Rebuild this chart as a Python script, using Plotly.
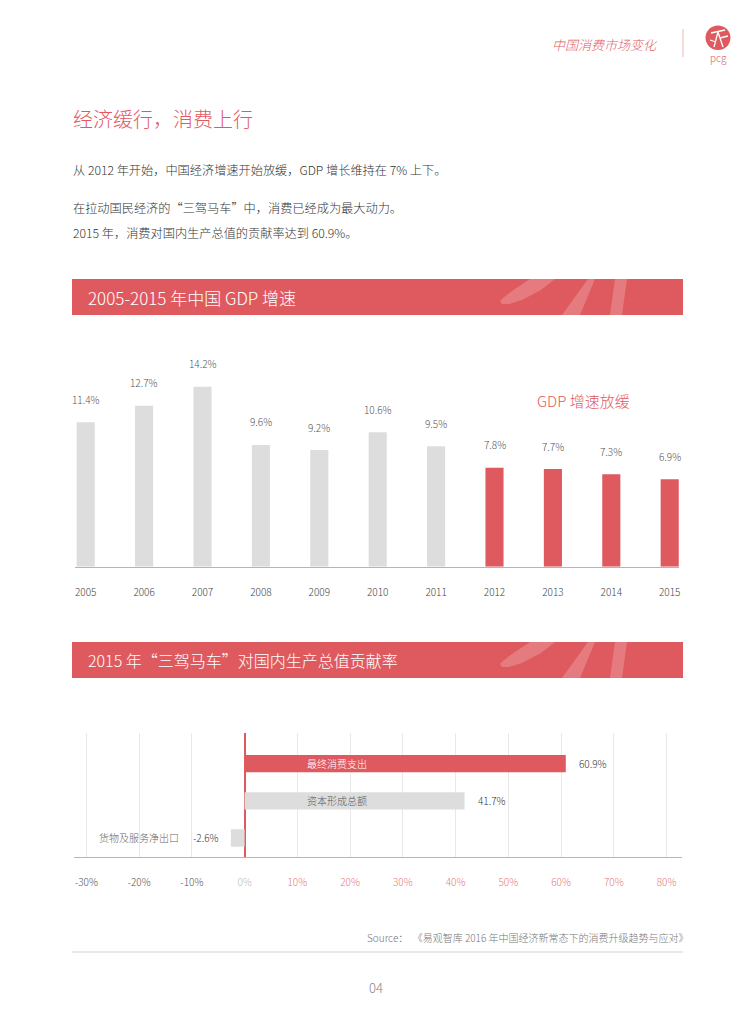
import plotly.graph_objects as go

# ---------------- data ----------------
years = ["2005", "2006", "2007", "2008", "2009", "2010", "2011", "2012", "2013", "2014", "2015"]
gdp_growth = [11.4, 12.7, 14.2, 9.6, 9.2, 10.6, 9.5, 7.8, 7.7, 7.3, 6.9]
slow_from = "2012"

drivers = ["货物及服务净出口", "资本形成总额", "最终消费支出"]
contrib = [-2.6, 41.7, 60.9]
x_ticks = [-30, -20, -10, 0, 10, 20, 30, 40, 50, 60, 70, 80]

W, H = 755, 1024
RED = "#df5a5f"
GRAY_BAR = "#dcdddc"
FONT = "Noto Sans CJK SC"
WT = 300


def px(x):
    return x / W


def py(y):
    return 1 - y / H


def f(size, color):
    return dict(size=size, color=color, family=FONT, weight=WT)


fig = go.Figure()

# ---------------- chart 1: GDP growth ----------------
slow_idx = years.index(slow_from)
colors1 = [GRAY_BAR if i < slow_idx else RED for i in range(len(years))]
fig.add_trace(go.Bar(
    x=years, y=gdp_growth, marker=dict(color=colors1, line=dict(width=0)),
    width=0.31, xaxis="x", yaxis="y", showlegend=False, hoverinfo="skip"))

# ---------------- chart 2: contribution ----------------
colors2 = [GRAY_BAR if d != "最终消费支出" else RED for d in drivers]
fig.add_trace(go.Bar(
    y=drivers, x=contrib, orientation="h",
    marker=dict(color=colors2, line=dict(width=0)),
    width=0.466, xaxis="x2", yaxis="y2", showlegend=False, hoverinfo="skip"))

ann = []
shapes = []

# value labels chart 1
for i, (yr, v) in enumerate(zip(years, gdp_growth)):
    ann.append(dict(x=i, y=v, xref="x", yref="y", text=f"{v}%", yshift=23,
                    font=f(10, "#555")))

ann.append(dict(x=px(583), y=py(400), text="GDP 增速放缓", font=f(15, RED)))

# labels chart 2
for d, v in zip(drivers, contrib):
    if v >= 0:
        ann.append(dict(x=17.5, y=d, xref="x2", yref="y2", text=d,
                        font=f(10, "white" if d == "最终消费支出" else "#555")))
        ann.append(dict(x=v, y=d, xref="x2", yref="y2", text=f"{v}%",
                        xanchor="left", xshift=11, font=f(10, "#333")))
    else:
        ann.append(dict(x=v, y=d, xref="x2", yref="y2", text=f"{v}%",
                        xanchor="right", xshift=-10, font=f(10, "#333")))
        ann.append(dict(x=v, y=d, xref="x2", yref="y2", text=d,
                        xanchor="right", xshift=-50, font=f(10, "#666")))

# ---------------- page text ----------------
ann += [
    dict(x=px(605), y=py(44), text="<i>中国消费市场变化</i>", font=f(13, RED)),
    dict(x=px(718), y=py(57), text="pcg", font=f(10, RED)),
    dict(x=px(71), y=py(118), text="经济缓行，消费上行", xanchor="left", font=f(20, RED)),
    dict(x=px(71), y=py(170), text="从 2012 年开始，中国经济增速开始放缓，GDP 增长维持在 7% 上下。", xanchor="left",
         font=f(12.2, "#333")),
    dict(x=px(71), y=py(208), text="在拉动国民经济的“三驾马车”中，消费已经成为最大动力。", xanchor="left",
         font=f(12.2, "#333")),
    dict(x=px(71), y=py(233), text="2015 年，消费对国内生产总值的贡献率达到 60.9%。", xanchor="left",
         font=f(12.2, "#333")),
    dict(x=px(86), y=py(297), text="2005-2015 年中国 GDP 增速", xanchor="left", font=f(17, "white")),
    dict(x=px(86), y=py(660), text="2015 年“三驾马车”对国内生产总值贡献率", xanchor="left", font=f(16, "white")),
    dict(x=px(691), y=py(937), text="Source：  《易观智库 2016 年中国经济新常态下的消费升级趋势与应对》", xanchor="right",
         font=f(10, "#777")),
    dict(x=px(376), y=py(987), text="04", font=f(13, "#888")),
]
for a in ann:
    a.setdefault("xref", "paper")
    a.setdefault("yref", "paper")
    a.setdefault("xanchor", "center")
    a.setdefault("yanchor", "middle")
    a["showarrow"] = False


# ---------------- shapes ----------------
def rect(x0, y0, x1, y1, color):
    return dict(type="rect", xref="paper", yref="paper", x0=px(x0), x1=px(x1), y0=py(y1), y1=py(y0),
                fillcolor=color, line=dict(width=0), layer="below")


def poly(points, color):
    p = "M " + " L ".join(f"{px(x):.5f},{py(y):.5f}" for x, y in points) + " Z"
    return dict(type="path", xref="paper", yref="paper", path=p, fillcolor=color, line=dict(width=0))


STRIPE = "rgba(255,255,255,0.2)"
for top in (279, 642):
    bot = top + 36
    shapes.append(rect(72, top, 683, bot, RED))
    # decorative stripes
    shapes.append(poly([(500, top + 22), (503, top + 19), (512, top + 12), (530, top), (555, top),
                        (541, top + 11), (522, top + 21), (509, top + 25), (502, top + 25)], STRIPE))
    shapes.append(poly([(562, bot), (580, bot), (595, top), (588, top)], STRIPE))
    shapes.append(poly([(610, bot), (622, bot), (627, top), (615, top)], STRIPE))

# header line and logo
shapes.append(dict(type="line", xref="paper", yref="paper", x0=px(683), x1=px(683), y0=py(29), y1=py(57),
                   line=dict(color="#f2c4c4", width=1.2)))
shapes.append(dict(type="circle", xref="paper", yref="paper", x0=px(705.5), x1=px(730.5), y0=py(50), y1=py(25.5),
                   fillcolor=RED, line=dict(width=0)))
for (x0, y0, x1, y1) in [(718, 32, 714, 47), (718, 32, 723, 47), (711, 33, 725, 30), (720, 38, 728, 36),
                         (710, 40, 716, 42)]:
    shapes.append(dict(type="line", xref="paper", yref="paper", x0=px(x0), x1=px(x1), y0=py(y0), y1=py(y1),
                       line=dict(color="white", width=1.3)))
# separator
shapes.append(dict(type="line", xref="paper", yref="paper", x0=px(72), x1=px(683), y0=py(952), y1=py(952),
                   line=dict(color="#d5d5d5", width=1)))

# ---------------- axes ----------------
base1, step1, ppu1 = 566.7, 58.4, 12.68
c0 = 85.7
xr1 = [(75 - c0) / step1, (679 - c0) / step1]
yr1 = [0, 16]

zero2, ppu2 = 244.6, 5.274
xr2 = [(74 - zero2) / ppu2, (682 - zero2) / ppu2]

tick_text = []
for t in x_ticks:
    if t < 0:
        col = "#555"
    elif t == 0:
        col = "#bbb"
    else:
        col = "#e8797c"
    tick_text.append(f"<span style='color:{col}'>{t}%</span>")

fig.update_layout(
    width=W, height=H, autosize=False,
    margin=dict(l=0, r=0, t=0, b=0),
    paper_bgcolor="white", plot_bgcolor="rgba(0,0,0,0)",
    font=dict(family=FONT, color="#333", weight=WT),
    annotations=ann, shapes=shapes,
    xaxis=dict(domain=[px(75), px(679)], range=xr1, type="category", showline=True, linecolor="#b5b5b5",
               linewidth=1, showgrid=False, ticks="", ticklabelstandoff=16,
               tickfont=f(10, "#444"), fixedrange=True),
    yaxis=dict(domain=[py(base1), py(base1 - yr1[1] * ppu1)], range=yr1, showticklabels=False, showgrid=False,
               zeroline=False, showline=False, ticks="", fixedrange=True),
    xaxis2=dict(domain=[px(74), px(682)], range=xr2, anchor="y2", tickvals=x_ticks, ticktext=tick_text,
                showgrid=True, gridcolor="#e8e8e8", gridwidth=1, zeroline=True, zerolinecolor=RED,
                zerolinewidth=2, showline=True, linecolor="#b5b5b5", linewidth=1, ticks="",
                ticklabelstandoff=16, tickfont=f(10, "#555"), fixedrange=True),
    yaxis2=dict(domain=[py(857.3), py(732.7)], anchor="x2", type="category",
                categoryorder="array", categoryarray=drivers, range=[-0.52, 2.834],
                showticklabels=False, showgrid=False, zeroline=False, showline=False, ticks="", fixedrange=True),
)

fig.write_html("out.html", config={"displayModeBar": False},
               post_script="document.body.style.margin='0';")
